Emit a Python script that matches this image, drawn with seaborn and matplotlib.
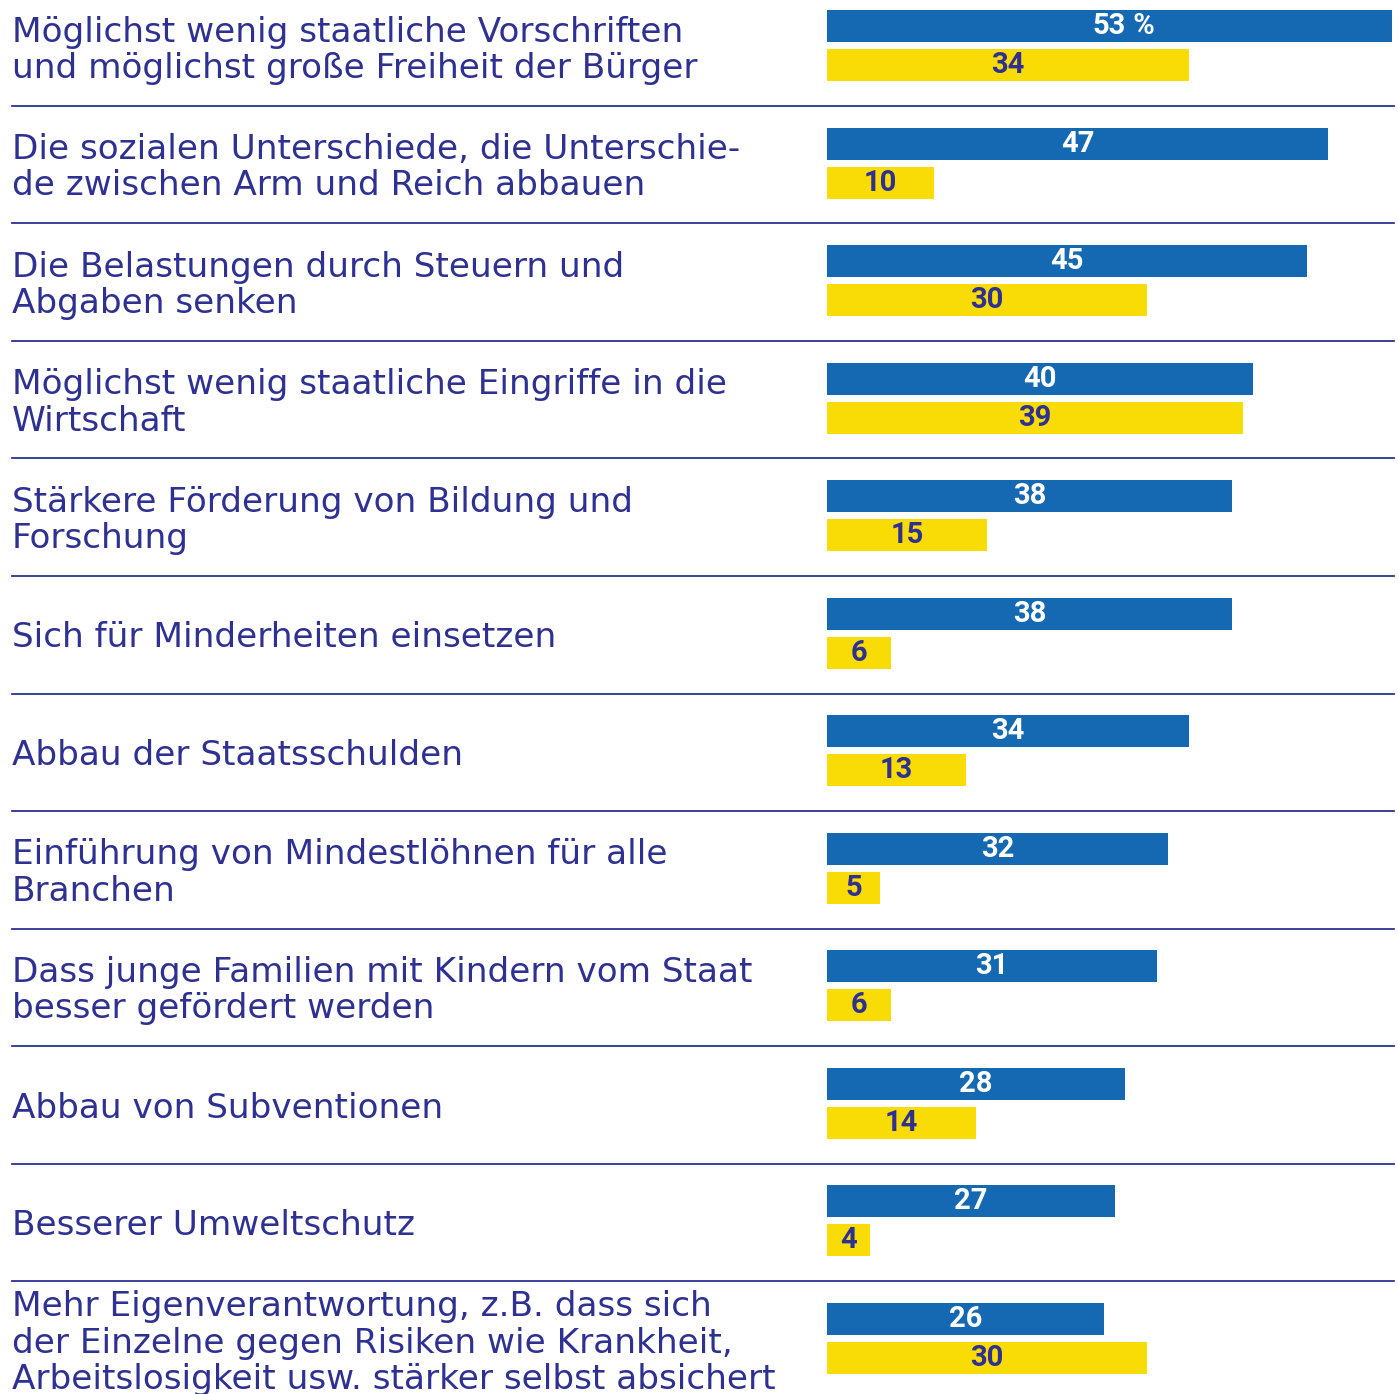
import pandas as pd
import matplotlib
matplotlib.use("Agg")
import matplotlib.pyplot as plt
import seaborn as sns

# ==================== Data ====================
items = [
    "Möglichst wenig staatliche Vorschriften\nund möglichst große Freiheit der Bürger",
    "Die sozialen Unterschiede, die Unterschie-\nde zwischen Arm und Reich abbauen",
    "Die Belastungen durch Steuern und\nAbgaben senken",
    "Möglichst wenig staatliche Eingriffe in die\nWirtschaft",
    "Stärkere Förderung von Bildung und\nForschung",
    "Sich für Minderheiten einsetzen",
    "Abbau der Staatsschulden",
    "Einführung von Mindestlöhnen für alle\nBranchen",
    "Dass junge Familien mit Kindern vom Staat\nbesser gefördert werden",
    "Abbau von Subventionen",
    "Besserer Umweltschutz",
    "Mehr Eigenverantwortung, z.B. dass sich\nder Einzelne gegen Risiken wie Krankheit,\nArbeitslosigkeit usw. stärker selbst absichert",
]
series_names = ["Reihe 1", "Reihe 2"]
values_blue = [53, 47, 45, 40, 38, 38, 34, 32, 31, 28, 27, 26]
values_yellow = [34, 10, 30, 39, 15, 6, 13, 5, 6, 14, 4, 30]

BLUE = "#1569B2"
YELLOW = "#F9DC06"
NAVY = "#2E3192"

df = pd.DataFrame({
    "item": items * 2,
    "serie": [series_names[0]] * len(items) + [series_names[1]] * len(items),
    "wert": values_blue + values_yellow,
})

# ==================== Plot ====================
W, H = 1398, 1394
fig = plt.figure(figsize=(W / 100, H / 100), dpi=100)
x0, x1 = 827, 1392
ax = fig.add_axes([x0 / W, 0, (x1 - x0) / W, 1])

sns.barplot(data=df, y="item", x="wert", hue="serie", orient="h",
            palette=[BLUE, YELLOW], width=0.6635, gap=0.18,
            legend=False, ax=ax, saturation=1)

ax.set_xlim(0, 53)
ax.set_ylim(11.472, -0.387)
ax.axis("off")

# value labels
lab_blue = ax.bar_label(ax.containers[0], labels=[str(v) for v in values_blue],
                        label_type="center", color="white", fontsize=21,
                        fontweight="bold", family="Roboto")
ax.bar_label(ax.containers[1], labels=[str(v) for v in values_yellow],
             label_type="center", color=NAVY, fontsize=21,
             fontweight="bold", family="Roboto")
ax.annotate(" %", xy=(1, 0), xycoords=lab_blue[0], va="bottom", ha="left",
            color="white", fontsize=21, fontweight="bold", family="Roboto")

# category labels on the left
trans = matplotlib.transforms.blended_transform_factory(fig.transFigure, ax.transData)
for i, txt in enumerate(items):
    ax.text(12 / W, i + 0.04, txt, transform=trans, ha="left", va="center",
            color=NAVY, fontsize=24.7, family="DejaVu Sans", linespacing=1.13)

# separators
left_frac = -(x0 - 12) / (x1 - x0)
right_frac = (1394 - x0) / (x1 - x0)
for i in range(len(items) - 1):
    ax.axhline(i + 0.513, xmin=left_frac, xmax=right_frac, color=NAVY,
               lw=1.3, clip_on=False)

fig.savefig("out.png", dpi=100)
